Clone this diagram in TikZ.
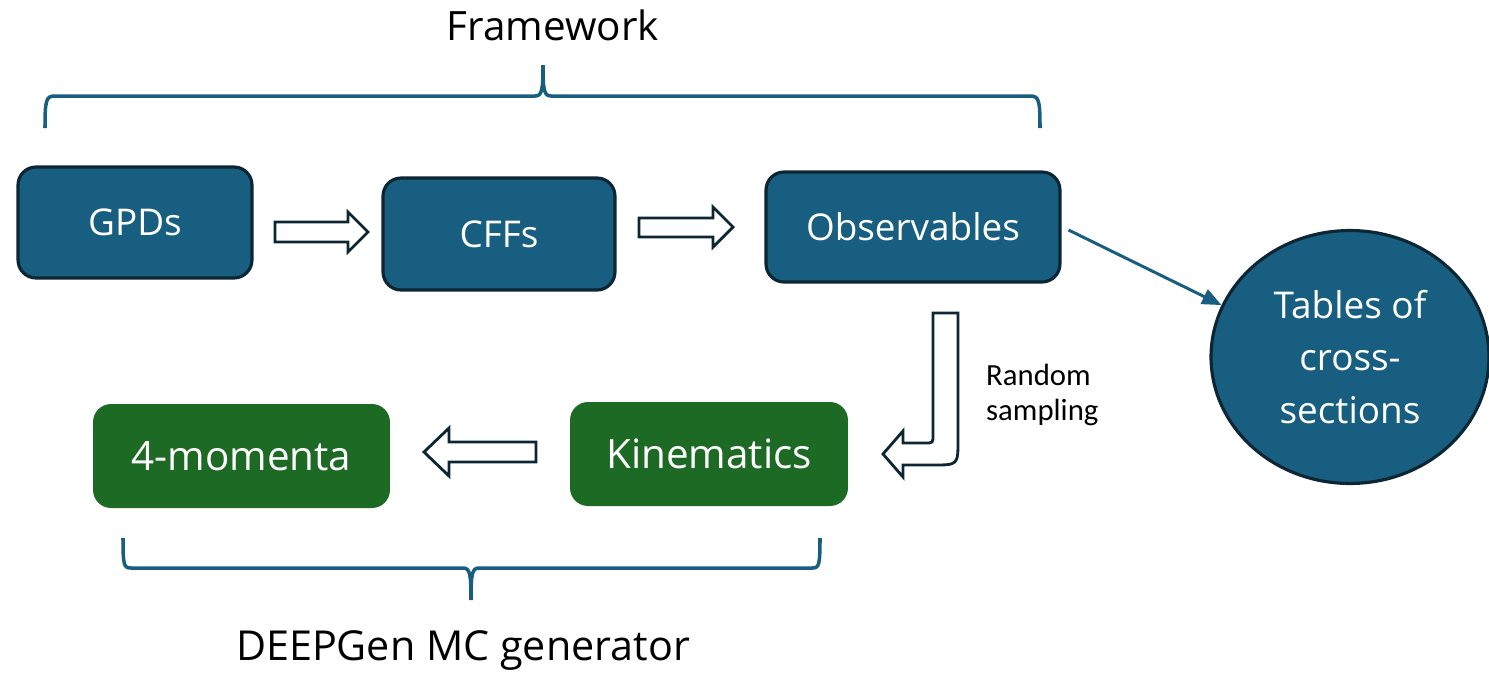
\documentclass[tikz,border=0pt]{standalone}
\usepackage{fontspec}
\setmainfont{Open Sans}
\newfontfamily\smallfont{Carlito}
\usetikzlibrary{arrows.meta, shapes.geometric, calc}
\definecolor{boxblue}{RGB}{24,94,128}
\definecolor{boxedge}{RGB}{12,38,52}
\definecolor{boxgreen}{RGB}{29,106,36}
\tikzset{
  bluebox/.style={draw=boxedge, fill=boxblue, line width=1.8pt, rounded corners=0.36cm, text=white, font=\fontsize{21}{25}\selectfont},
  greenbox/.style={fill=boxgreen, rounded corners=0.36cm, text=white, font=\fontsize{23}{27}\selectfont},
  blockarrow/.style={draw=boxedge, fill=white, line width=1.6pt, line join=miter},
  brace/.style={draw=boxblue, line width=2pt},
  conn/.style={draw=boxblue, line width=1.7pt, -{Triangle[length=11pt,width=9pt]}}
}
\begin{document}
\begin{tikzpicture}[x=0.02cm,y=-0.02cm]
  \useasboundingbox (0,0) rectangle (1489,674);
  % framework row
  \node[bluebox, minimum width=4.68cm, minimum height=2.22cm] (gpds) at (135,222.5) {GPDs};
  \node[bluebox, minimum width=4.64cm, minimum height=2.24cm] (cffs) at (499,234) {CFFs};
  \node[bluebox, minimum width=5.88cm, minimum height=2.2cm] (obs) at (913,227) {Observables};
  \node[ellipse, draw=boxedge, fill=boxblue, line width=1.8pt, minimum width=5.56cm, minimum height=5.06cm,
        text=white, align=center, font=\fontsize{21}{30}\selectfont] (tables) at (1350,357) {Tables of\\cross-\\sections};
  % generator row
  \node[greenbox, minimum width=5.94cm, minimum height=2.08cm] (mom) at (241.5,456) {4-momenta};
  \node[greenbox, minimum width=5.56cm, minimum height=2.08cm] (kin) at (709,454) {Kinematics};
  % block arrows
  \draw[blockarrow] (275,222) -- (348,222) -- (348,212) -- (368,232) -- (348,252) -- (348,242) -- (275,242) -- cycle;
  \draw[blockarrow] (639,218) -- (713,218) -- (713,207) -- (733,227) -- (713,247) -- (713,237) -- (639,237) -- cycle;
  \draw[blockarrow] (536,442) -- (449,442) -- (449,428) -- (424,452) -- (449,476) -- (449,462) -- (536,462) -- cycle;
  \draw[blockarrow] (933,313) -- (958,313) -- (958,440) .. controls (958,465) .. (933,465) -- (903,465) -- (903,477)
    -- (883,454) -- (903,431) -- (903,443) -- (925,443) .. controls (933,443) .. (933,435) -- cycle;
  \node[font=\smallfont\fontsize{17.5}{20}\selectfont, align=left, anchor=west] (rs) at (980,395) {Random\\sampling};
  \draw[conn] ([shift={(7,3)}]obs.east) -- (tables.158);
  % braces
  \draw[brace] (45,128) .. controls (45,100) and (46,96) .. (55,96) -- (535,96)
    .. controls (542,96) and (543,90) .. (543,65) .. controls (543,90) and (544,96) .. (551,96)
    -- (1030,96) .. controls (1039,96) and (1040,100) .. (1040,128);
  \draw[brace] (123,538) .. controls (123,566) and (124,568) .. (131,568) -- (463,568)
    .. controls (470,568) and (471,574) .. (471,600) .. controls (471,574) and (472,568) .. (479,568)
    -- (812,568) .. controls (819,568) and (820,566) .. (820,538);
  \node[font=\fontsize{23}{27}\selectfont] (fw) at (553,25) {Framework};
  \node[font=\fontsize{23.5}{27}\selectfont] (gen) at (463,650) {DEEPGen MC generator};
\end{tikzpicture}
\end{document}
